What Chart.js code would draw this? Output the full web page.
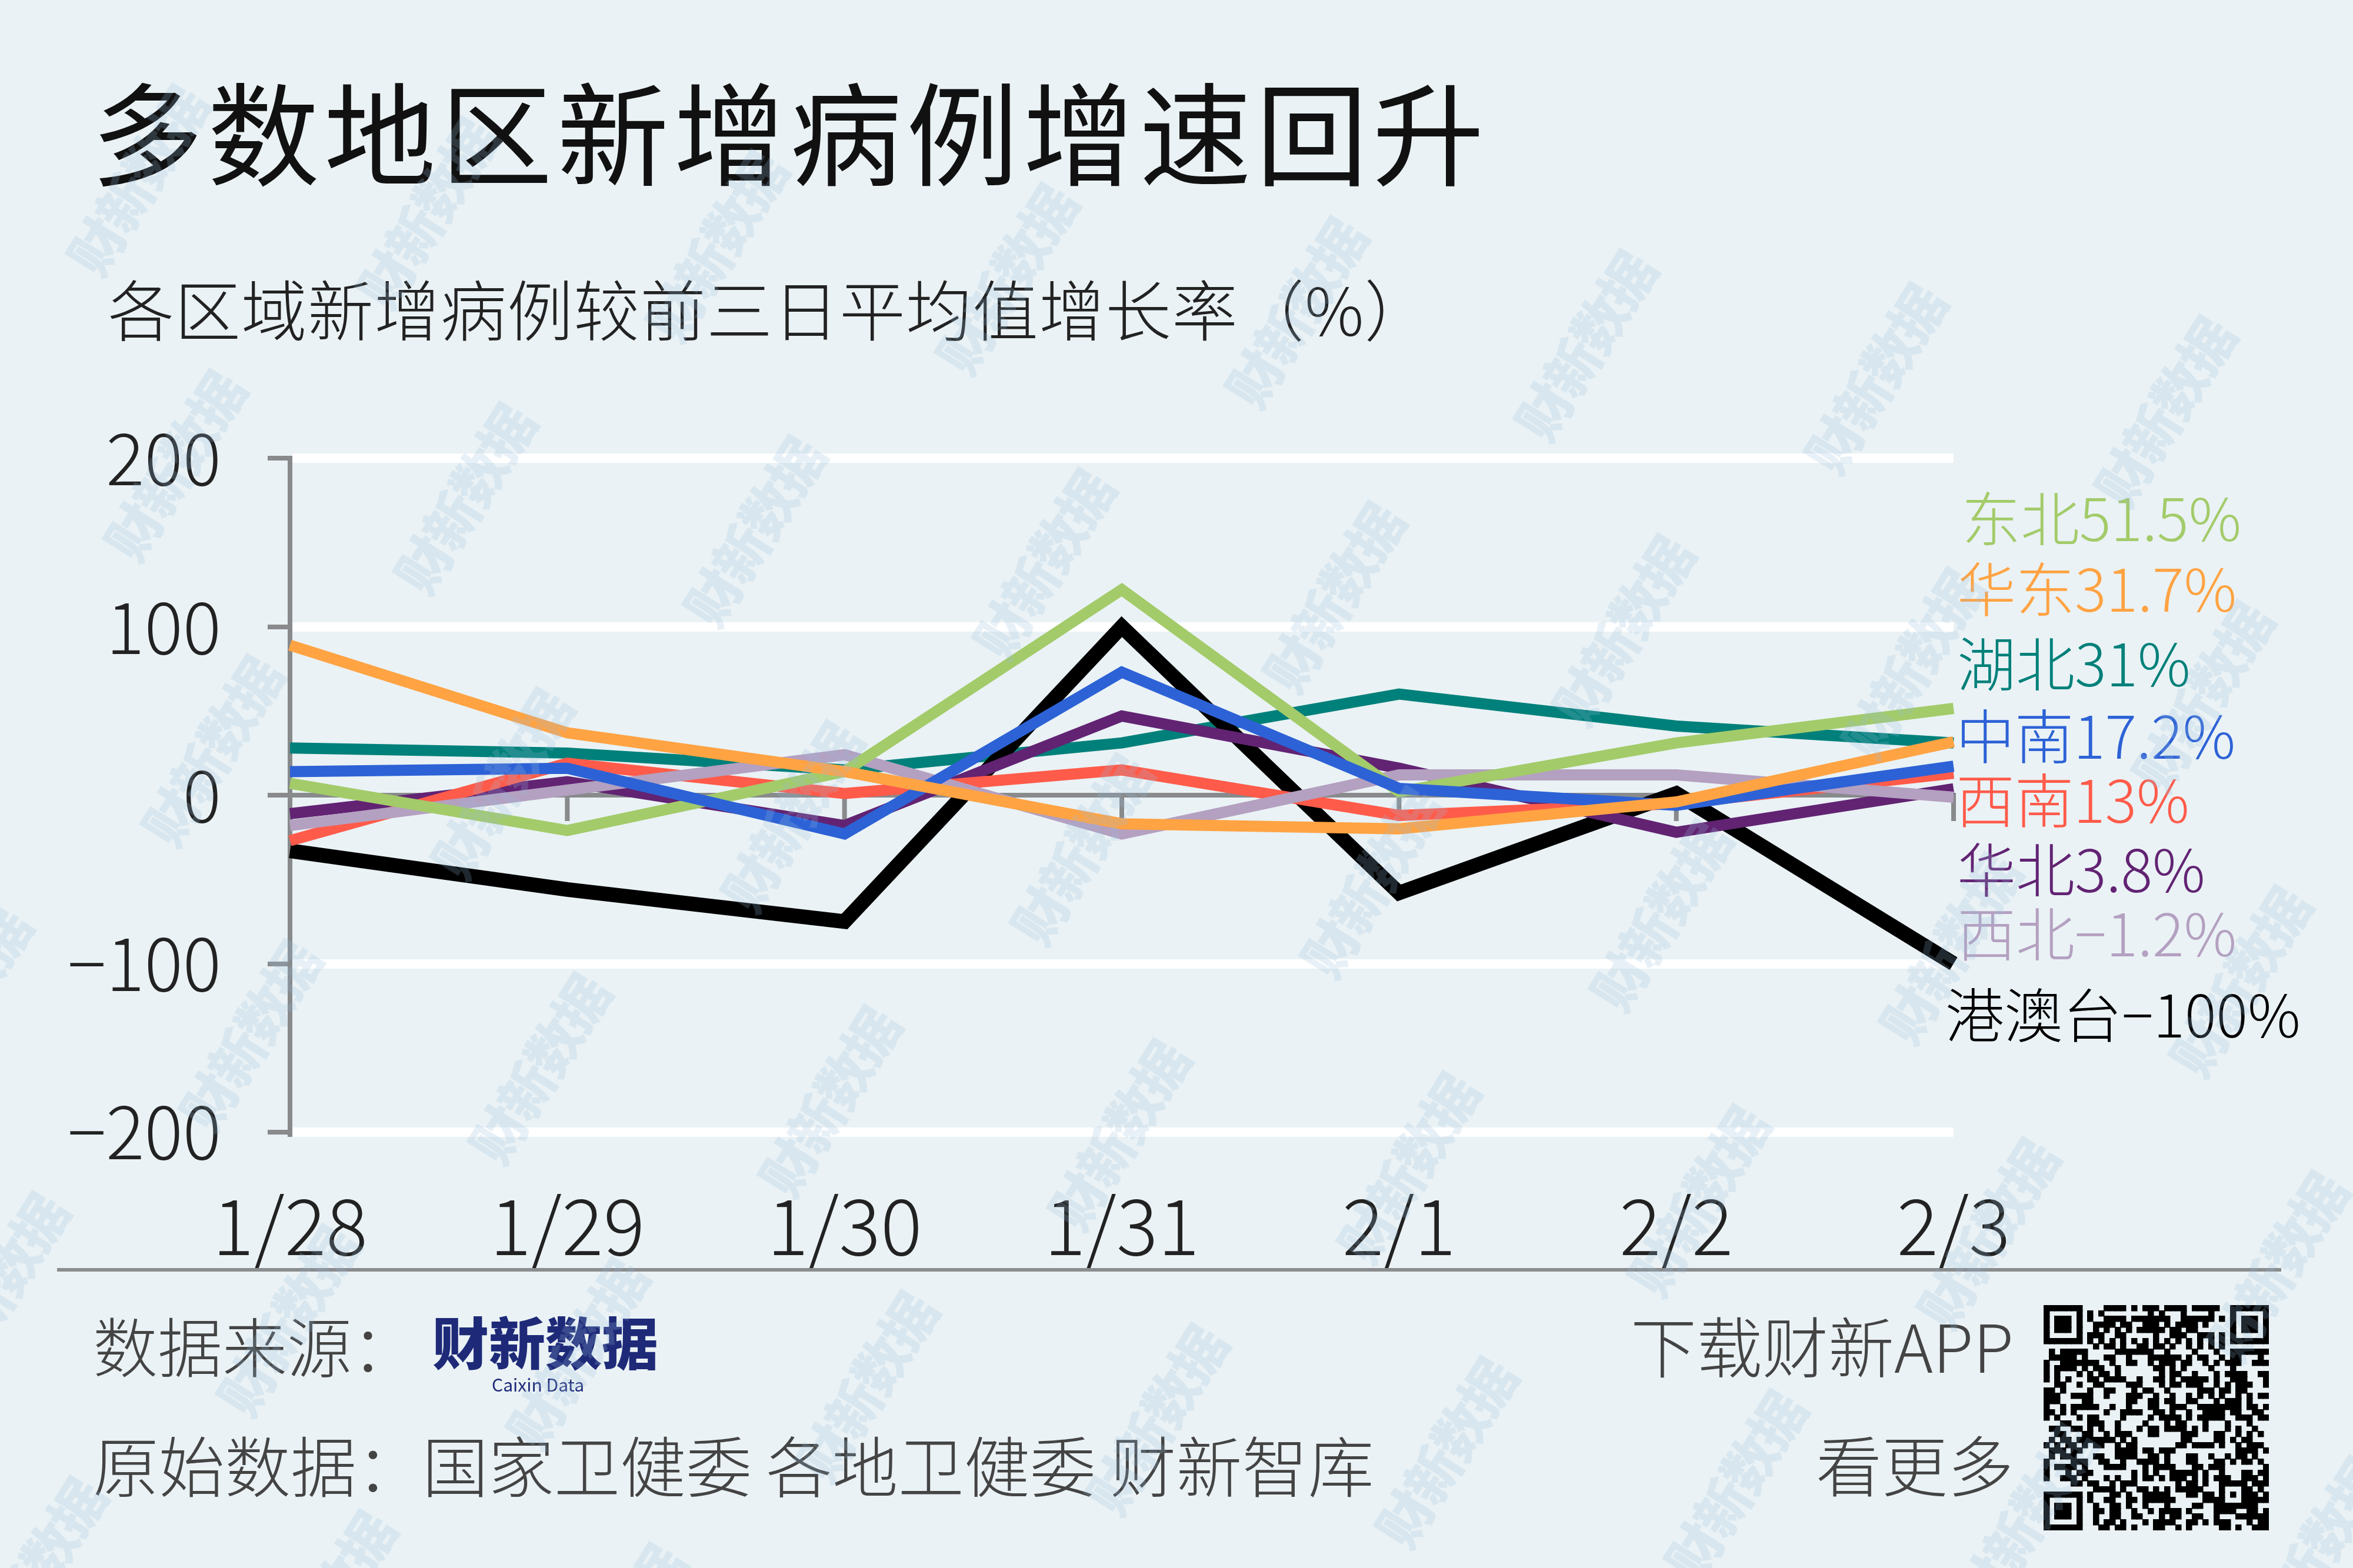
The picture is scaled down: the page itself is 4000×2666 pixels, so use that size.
<!DOCTYPE html>
<html><head><meta charset="utf-8">
<script src="https://cdn.jsdelivr.net/npm/chart.js@4.4.1/dist/chart.umd.min.js"></script>
<style>
html,body{margin:0;padding:0;}
body{width:4000px;height:2666px;background:#EAF2F5;position:relative;overflow:hidden;font-family:'Noto Sans CJK SC','Noto Sans',sans-serif;}
#c{position:absolute;left:0;top:0;}
.t{position:absolute;white-space:nowrap;line-height:1;}
.wm{position:absolute;white-space:nowrap;line-height:1;font-weight:900;font-size:92px;color:rgba(150,188,218,0.22);transform:translate(-50%,-50%) rotate(-58deg);pointer-events:none;letter-spacing:-4px;}
#qr{position:absolute;left:3474px;top:2219px;}
</style></head><body>
<canvas id="c" width="4000" height="2666"></canvas>

<div class="t" style="left:155px;top:124px;font-size:190px;letter-spacing:8px;color:#111;font-weight:400;">多数地区新增病例增速回升</div>
<div class="t" style="left:184px;top:466px;font-size:112px;letter-spacing:1px;color:#222;font-weight:300;">各区域新增病例较前三日平均值增长率（%）</div>

<div id="labels"></div>

<div style="position:absolute;left:97px;top:2156px;width:3781px;height:6px;background:#8a8c8e;"></div>
<div class="t" style="left:158px;top:2230px;font-size:110px;color:#444;font-weight:300;">数据来源：</div>
<div class="t" style="left:735px;top:2231px;font-size:96px;color:#1E2A78;font-weight:900;letter-spacing:0px;">财新数据</div>
<div class="t" style="left:836px;top:2338px;font-size:30px;color:#1E2A78;font-weight:400;">Caixin Data</div>
<div class="t" style="left:158px;top:2432px;font-size:112px;color:#444;font-weight:300;">原始数据：国家卫健委 各地卫健委 财新智库</div>
<div class="t" style="right:577px;top:2229px;font-size:112px;color:#444;font-weight:300;">下载财新APP</div>
<div class="t" style="right:577px;top:2431px;font-size:112px;color:#444;font-weight:300;">看更多</div>
<canvas id="qr" width="383" height="383"></canvas>

<div id="wms"></div>

<script>
// ---- data ----
const categories = ['1/28','1/29','1/30','1/31','2/1','2/2','2/3'];
const seriesNames = ['东北','华东','湖北','中南','西南','华北','西北','港澳台'];
const dongbei   = [7, -21, 14, 122, 2, 31, 51.5];
const huadong   = [89, 37, 14, -17, -20, -4, 31.7];
const hubei     = [28, 25, 15, 31, 60, 41, 31];
const zhongnan  = [14, 16, -23, 73, 4, -6, 17.2];
const xinan     = [-27, 19, 1, 15, -12, -5, 13];
const huabei    = [-11, 8, -18, 47, 16, -22, 3.8];
const xibei     = [-18, 3, 24, -23, 12, 12, -1.2];
const gangaotai = [-33, -56, -75, 100, -58, 1, -100];
const endLabels = ['东北51.5%','华东31.7%','湖北31%','中南17.2%','西南13%','华北3.8%','西北−1.2%','港澳台−100%'];
const yTicks = [-200, -100, 0, 100, 200];

const seriesValues = [dongbei, huadong, hubei, zhongnan, xinan, huabei, xibei, gangaotai];
const colors = ['#A3CB6A','#FFA343','#00807A','#2D62D6','#FF5B4A','#622373','#B4A0C0','#000000'];
const widths = [19,19,19,19,19,19,19,25];
const drawOrder = [2,0,7,1,4,5,3,6]; // lower = drawn on top

const FONT = "'Noto Sans CJK SC','Noto Sans',sans-serif";

const datasets = seriesNames.map((n,i)=>({
  label:n, data:seriesValues[i], borderColor:colors[i], backgroundColor:colors[i],
  borderWidth:widths[i], pointRadius:0, tension:0, fill:false, order:drawOrder[i],
  borderJoinStyle:'miter', borderCapStyle:'butt'
}));

const zeroLine = {
  id:'zeroLine',
  beforeDatasetsDraw(chart){
    const {ctx, chartArea, scales:{x,y}} = chart;
    const y0 = y.getPixelForValue(0);
    ctx.save();
    ctx.strokeStyle = '#888a8c';
    ctx.lineWidth = 8;
    ctx.lineCap = 'butt';
    ctx.beginPath();
    ctx.moveTo(chartArea.left, y0); ctx.lineTo(chartArea.right + 4, y0);
    categories.forEach((c,i)=>{ const px = x.getPixelForValue(i); ctx.moveTo(px, y0); ctx.lineTo(px, y0 + 44); });
    ctx.stroke();
    ctx.restore();
  }
};

new Chart(document.getElementById('c'), {
  type:'line',
  data:{labels:categories, datasets},
  options:{
    responsive:false, animation:false, devicePixelRatio:1,
    layout:{padding:{left:0, right:679, top:779, bottom:491}},
    plugins:{legend:{display:false}, tooltip:{enabled:false}},
    scales:{
      x:{
        type:'category', offset:false,
        grid:{display:false, drawTicks:false}, border:{display:false},
        ticks:{padding:80, color:'#222', maxRotation:0, autoSkip:false, font:{family:FONT, size:132, weight:300}},
        afterFit(s){ s.height = 250; }
      },
      y:{
        min:-200, max:200,
        afterBuildTicks(s){ s.ticks = yTicks.map(v=>({value:v})); },
        ticks:{padding:79, color:'#222', font:{family:FONT, size:122, weight:300},
               callback:v=>String(v).replace('-','−')},
        grid:{color:c=>(c.tick && c.tick.value===0)?'rgba(0,0,0,0)':'#ffffff', lineWidth:16,
              drawTicks:true, tickLength:38, tickColor:'#888a8c', tickWidth:8},
        border:{display:true, color:'#888a8c', width:8},
        afterFit(s){ s.width = 493; }
      }
    }
  },
  plugins:[zeroLine]
});

// end labels (text annotations at right)
(function(){
  const centers = [883,1003,1130,1253,1362,1480,1589,1727];
  const lefts = [3335,3327,3327,3325,3325,3327,3327,3307];
  const box = document.getElementById('labels');
  endLabels.forEach((t,i)=>{
    const d = document.createElement('div');
    d.className='t';
    d.textContent=t;
    d.style.cssText = `left:${lefts[i]}px;top:${centers[i]-56}px;font-size:100px;font-weight:300;color:${colors[i]};`;
    box.appendChild(d);
  });
})();

// watermarks
(function(){
  const box = document.getElementById('wms');
  const s = 2.551;
  for(let r=0;r<6;r++){
    for(let c=-1;c<9;c++){
      const cx = (90 + 25*r + 193*c)*s;
      const cy = (120 + 190*r + 22*c)*s;
      if(cx<-200||cx>4200||cy<-200||cy>2850) continue;
      const d = document.createElement('div');
      d.className='wm'; d.textContent='财新数据';
      d.style.left = cx+'px'; d.style.top = cy+'px';
      box.appendChild(d);
    }
  }
})();

// QR-like decoration
(function(){
  const cv = document.getElementById('qr'); const ctx = cv.getContext('2d');
  const N = 41, m = 383/N;
  const grid = [];
  for(let i=0;i<N;i++){ grid.push([]); for(let j=0;j<N;j++){
    let h = Math.imul(i*131 + j*7919 + 17, 2654435761);
    h ^= h>>>15; h = Math.imul(h, 2246822519); h ^= h>>>13;
    grid[i].push((h>>>3)&1);
  }}
  function finder(r0,c0){
    for(let i=-1;i<8;i++)for(let j=-1;j<8;j++){
      const r=r0+i,c=c0+j; if(r<0||c<0||r>=N||c>=N) continue;
      let v=0;
      if(i>=0&&i<7&&j>=0&&j<7){ v = (i===0||i===6||j===0||j===6||(i>=2&&i<=4&&j>=2&&j<=4))?1:0; }
      grid[r][c]=v;
    }
  }
  finder(0,0); finder(0,N-7); finder(N-7,0);
  for(let k=8;k<N-8;k++){ grid[6][k]=k%2===0?1:0; grid[k][6]=k%2===0?1:0; }
  for(let i=-2;i<=2;i++)for(let j=-2;j<=2;j++){ grid[34+i][34+j] = (Math.max(Math.abs(i),Math.abs(j))!==1)?1:0; }
  ctx.fillStyle='#000';
  for(let i=0;i<N;i++)for(let j=0;j<N;j++) if(grid[i][j]) ctx.fillRect(Math.floor(j*m),Math.floor(i*m),Math.ceil(m)+0.5,Math.ceil(m)+0.5);
})();
</script>
</body></html>
